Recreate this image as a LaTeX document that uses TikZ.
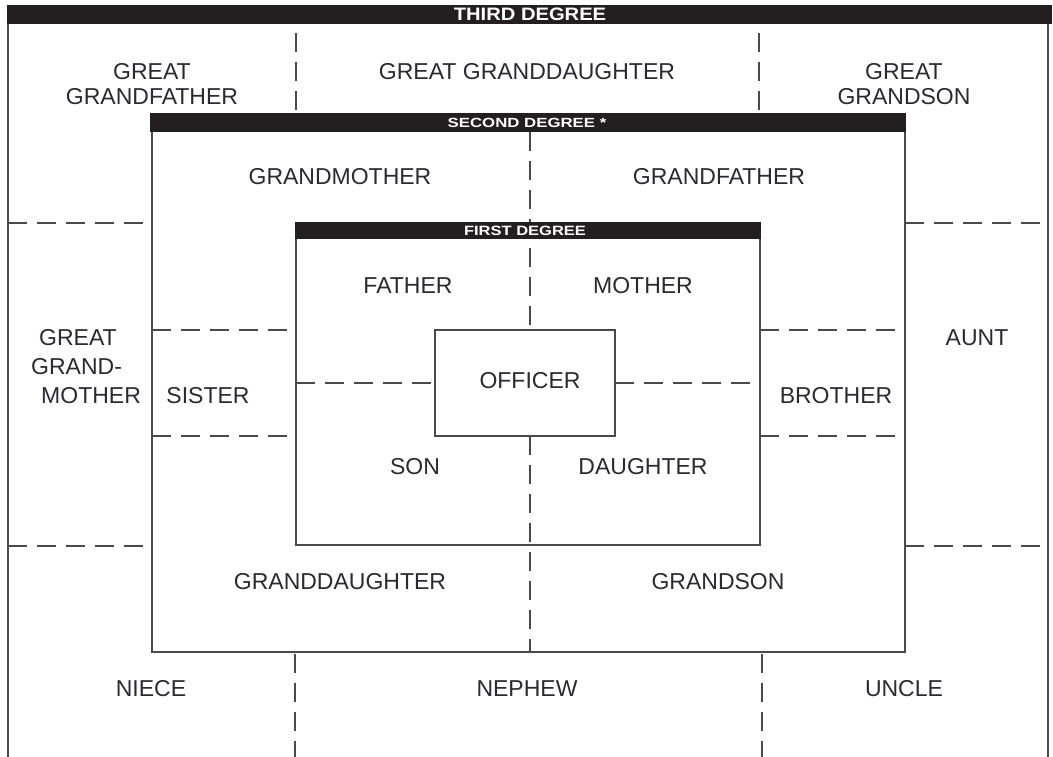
\documentclass[tikz,border=0pt]{standalone}
\usepackage{fontspec}
\setmainfont{Liberation Sans}
\definecolor{linegray}{HTML}{4A4A4A}
\definecolor{barblack}{HTML}{231F20}
\definecolor{txt}{HTML}{2A2A33}
\begin{document}
\begin{tikzpicture}[x=1pt,y=-1pt,
  solidline/.style={draw=linegray, line width=2pt},
  dline/.style={draw=linegray, line width=2pt, dash pattern=on 19pt off 10pt},
  barbox/.style={fill=barblack, draw=none},
  lbl/.style={text=txt, font=\fontsize{23}{25}\selectfont, inner sep=0pt, align=center},
  bartxt/.style={text=white, inner sep=0pt}
]
\useasboundingbox (0,0) rectangle (1053,757);
\fill[white] (0,0) rectangle (1053,757);

% dashed separators
\draw[dline] (296,33) -- (296,113);
\draw[dline] (759,33) -- (759,113);
\draw[dline] (8,223) -- (152,223);
\draw[dline] (905,223) -- (1048,223);
\draw[dline] (8,546) -- (152,546);
\draw[dline] (905,546) -- (1048,546);
\draw[dline] (530,132) -- (530,330);
\draw[dline] (530,436) -- (530,652);
\draw[dline] (152,330) -- (296,330);
\draw[dline] (152,436) -- (296,436);
\draw[dline] (760,330) -- (905,330);
\draw[dline] (760,436) -- (905,436);
\draw[dline] (296,383) -- (435,383);
\draw[dline] (615,383) -- (760,383);
\draw[dline] (295,654) -- (295,757);
\draw[dline] (762,654) -- (762,757);

% outer (third degree) frame
\draw[solidline] (8,757) -- (8,14) (1048,14) -- (1048,757);
\fill[barblack] (7,5) rectangle (1052,24);
\node[bartxt, font=\fontsize{18}{18}\bfseries\selectfont, xscale=1.12] (third) at (530,14.5) {THIRD DEGREE};

% second degree box
\draw[solidline] (152,120) rectangle (905,652);
\fill[barblack] (150,113) rectangle (906,132);
\node[bartxt, font=\fontsize{14}{14}\bfseries\selectfont, xscale=1.2, yscale=0.95] (second) at (527,122.5) {SECOND DEGREE *};

% first degree box
\draw[solidline] (296,230) rectangle (760,545);
\fill[barblack] (295,222) rectangle (761,239);
\node[bartxt, font=\fontsize{15}{15}\bfseries\selectfont, xscale=1.1, yscale=0.9] (first) at (525,230.5) {FIRST DEGREE};

% officer box
\draw[solidline] (435,330) rectangle (615,436);

% labels
\node[lbl] (ggf) at (152,84) {GREAT\\GRANDFATHER};
\node[lbl] (ggd) at (527,72) {GREAT GRANDDAUGHTER};
\node[lbl] (ggs) at (904,84) {GREAT\\GRANDSON};
\node[lbl] (gm) at (340,177) {GRANDMOTHER};
\node[lbl] (gf) at (719,177) {GRANDFATHER};
\node[lbl] (father) at (408,286) {FATHER};
\node[lbl] (mother) at (643,286) {MOTHER};
\node[lbl] (officer) at (530,381) {OFFICER};
\node[lbl] (son) at (415,467) {SON};
\node[lbl] (daughter) at (643,467) {DAUGHTER};
\node[lbl] (gd) at (340,582) {GRANDDAUGHTER};
\node[lbl] (gs) at (718,582) {GRANDSON};
\node[lbl] (niece) at (151,689) {NIECE};
\node[lbl] (nephew) at (527,689) {NEPHEW};
\node[lbl] (uncle) at (904,689) {UNCLE};
\node[lbl, align=left, font=\fontsize{23}{29}\selectfont, anchor=north west] (ggm) at (31,329) {\hspace*{8pt}GREAT\\GRAND-\\\hspace*{10pt}MOTHER};
\node[lbl] (sister) at (208,396) {SISTER};
\node[lbl] (brother) at (836,396) {BROTHER};
\node[lbl] (aunt) at (977,338) {AUNT};
\end{tikzpicture}
\end{document}
